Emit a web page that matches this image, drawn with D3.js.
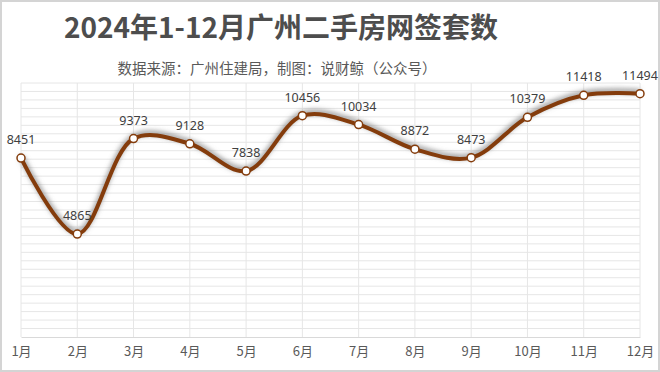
<!DOCTYPE html>
<html>
<head>
<meta charset="utf-8">
<script src="https://cdn.jsdelivr.net/npm/d3@7"></script>
<style>
  body { margin: 0; background: #fff; }
  svg { display: block; font-family: "Noto Sans CJK SC", "Noto Sans", sans-serif; }
</style>
</head>
<body>
<div id="chart"></div>
<script>
// chart data
let months = ["1月", "2月", "3月", "4月", "5月", "6月", "7月", "8月", "9月", "10月", "11月", "12月"];
let deals = [8451, 4865, 9373, 9128, 7838, 10456, 10034, 8872, 8473, 10379, 11418, 11494];
let titleText = "2024年1-12月广州二手房网签套数";
let subtitleText = "数据来源：广州住建局，制图：说财鲸（公众号）";

let W = 660, H = 372;
let margin = { top: 83, right: 20, bottom: 35, left: 21 },
  width = W - margin.left - margin.right,
  height = H - margin.top - margin.bottom;

let svg = d3.select("#chart").append("svg")
  .attr("width", W)
  .attr("height", H);

// outer frame
svg.append("rect")
  .attr("x", 1).attr("y", 1)
  .attr("width", W - 2).attr("height", H - 2)
  .attr("fill", "#fff")
  .attr("stroke", "#d4d4d4")
  .attr("stroke-width", 2);

// glow under the line
let defs = svg.append("defs");
let f = defs.append("filter").attr("id", "glow")
  .attr("x", "-10%").attr("y", "-30%").attr("width", "120%").attr("height", "160%");
f.append("feGaussianBlur").attr("in", "SourceAlpha").attr("stdDeviation", 2.5).attr("result", "b");
f.append("feOffset").attr("in", "b").attr("dx", 0).attr("dy", -2).attr("result", "o");
f.append("feFlood").attr("flood-color", "#7a7a7a").attr("flood-opacity", 0.75);
f.append("feComposite").attr("in2", "o").attr("operator", "in");

svg.append("text")
  .attr("x", 281).attr("y", 38)
  .attr("text-anchor", "middle")
  .attr("font-size", 28).attr("font-weight", "bold")
  .attr("fill", "#4d4d4d")
  .text(titleText);

svg.append("text")
  .attr("x", 277).attr("y", 74)
  .attr("text-anchor", "middle")
  .attr("font-size", 14.5)
  .attr("fill", "#595959")
  .text(subtitleText);

let g = svg.append("g")
  .attr("transform", "translate(" + margin.left + "," + margin.top + ")");

let x = d3.scalePoint().domain(months).range([0, width]);
let y = d3.scaleLinear().domain([0, 12000]).range([height, 0]);

// horizontal grid
g.append("g")
  .selectAll("line")
  .data(d3.range(400, 12001, 400))
  .enter().append("line")
  .attr("x1", 0).attr("x2", width)
  .attr("y1", d => y(d)).attr("y2", d => y(d))
  .attr("stroke", "#e6e6e6").attr("stroke-width", 1);

// vertical grid
g.append("g")
  .selectAll("line")
  .data(months)
  .enter().append("line")
  .attr("x1", d => x(d)).attr("x2", d => x(d))
  .attr("y1", 0).attr("y2", height)
  .attr("stroke", "#e6e6e6").attr("stroke-width", 1);

// x axis
let xAxis = g.append("g")
  .attr("transform", "translate(0," + height + ")")
  .call(d3.axisBottom(x).tickSize(0).tickPadding(10));
xAxis.select(".domain").attr("stroke", "#d9d9d9");
xAxis.selectAll("text")
  .attr("font-size", 13)
  .attr("fill", "#595959")
  .attr("font-family", "\"Noto Sans CJK SC\", sans-serif");

let pts = months.map((m, i) => ({ m: m, v: deals[i] }));

let line = d3.line()
  .x(d => x(d.m))
  .y(d => y(d.v))
  .curve(d3.curveCatmullRom.alpha(0.5));

g.append("path")
  .datum(pts)
  .attr("d", line)
  .attr("fill", "none")
  .attr("stroke", "#000")
  .attr("stroke-width", 5)
  .attr("filter", "url(#glow)");

g.append("path")
  .datum(pts)
  .attr("d", line)
  .attr("fill", "none")
  .attr("stroke", "#843c0c")
  .attr("stroke-width", 4)
  .attr("stroke-linecap", "round");

g.selectAll("circle")
  .data(pts)
  .enter().append("circle")
  .attr("cx", d => x(d.m))
  .attr("cy", d => y(d.v))
  .attr("r", 4)
  .attr("fill", "#fff")
  .attr("stroke", "#843c0c")
  .attr("stroke-width", 1.5);

g.selectAll(".lbl")
  .data(pts)
  .enter().append("text")
  .attr("class", "lbl")
  .attr("x", d => x(d.m))
  .attr("y", d => y(d.v) - 14)
  .attr("text-anchor", "middle")
  .attr("font-size", 12.5)
  .attr("fill", "#404040")
  .attr("font-family", "\"Noto Sans\", \"Open Sans\", sans-serif")
  .text(d => d.v);
</script>
</body>
</html>
